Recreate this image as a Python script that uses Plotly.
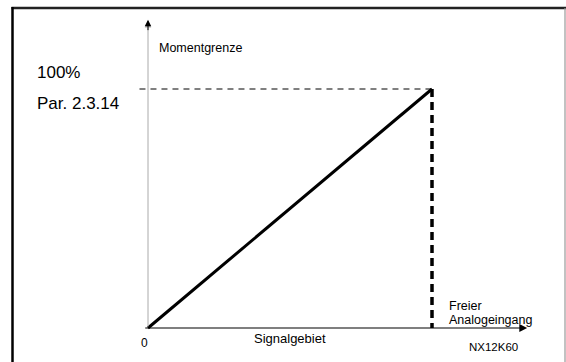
import plotly.graph_objects as go

# Kennlinie: Signalgebiet (%) -> Momentgrenze (%)
signal = [0, 100]
moment = [0, 100]
grenze_label = ['100%', 'Par. 2.3.14']
y_titel = 'Momentgrenze'
x_titel = 'Signalgebiet'
x_ende = ['Freier', 'Analogeingang']
bild_nr = 'NX12K60'

FONT = 'Liberation Sans, Arial, sans-serif'

fig = go.Figure()

# horizontale Hilfslinie bei 100 %
fig.add_trace(go.Scatter(x=[-3, signal[1]], y=[moment[1], moment[1]], mode='lines',
                         line=dict(color='black', width=1, dash='6px,5px'),
                         hoverinfo='skip'))
# senkrechte Hilfslinie am Ende des Signalgebiets
fig.add_trace(go.Scatter(x=[signal[1], signal[1]], y=[moment[1], 0], mode='lines',
                         line=dict(color='black', width=3.5, dash='8px,5px'),
                         hoverinfo='skip'))
# Kennlinie
fig.add_trace(go.Scatter(x=signal, y=moment, mode='lines',
                         line=dict(color='black', width=3),
                         hoverinfo='skip'))

# Achsen mit Pfeilen
fig.add_annotation(x=133.5, y=0, ax=-1.5, ay=0, xref='x', yref='y', axref='x', ayref='y',
                   showarrow=True, arrowhead=2, arrowsize=1.3, arrowwidth=1.2,
                   arrowcolor='black', text='')
fig.add_annotation(x=0, y=128.5, ax=0, ay=0, xref='x', yref='y', axref='x', ayref='y',
                   showarrow=True, arrowhead=2, arrowsize=1.3, arrowwidth=1,
                   arrowcolor='#aaaaaa', text='')
fig.add_annotation(x=0, y=129, ax=0, ay=124, xref='x', yref='y', axref='x', ayref='y',
                   showarrow=True, arrowhead=2, arrowsize=1.3, arrowwidth=1,
                   arrowcolor='black', text='')

# Texte
fig.add_annotation(x=-39.8, y=106.7, text=grenze_label[0], showarrow=False,
                   xanchor='left', font=dict(size=17, family=FONT, color='black'))
fig.add_annotation(x=-39.8, y=94.1, text=grenze_label[1], showarrow=False,
                   xanchor='left', font=dict(size=17, family=FONT, color='black'))
fig.add_annotation(x=3.2, y=117.2, text=y_titel, showarrow=False,
                   xanchor='left', font=dict(size=12.5, family=FONT, color='black'))
fig.add_annotation(x=-1.1, y=-6.3, text='0', showarrow=False,
                   font=dict(size=12, family=FONT, color='black'))
fig.add_annotation(x=50, y=-4.2, text=x_titel, showarrow=False,
                   font=dict(size=13, family=FONT, color='black'))
fig.add_annotation(x=105.3, y=9.4, text=x_ende[0], showarrow=False,
                   xanchor='left', font=dict(size=12.5, family=FONT, color='black'))
fig.add_annotation(x=105.3, y=3.4, text=x_ende[1], showarrow=False,
                   xanchor='left', font=dict(size=12.5, family=FONT, color='black'))
fig.add_annotation(x=112.3, y=-7.9, text=bild_nr, showarrow=False,
                   xanchor='left', font=dict(size=11.5, family=FONT, color='black'))

# Rahmen
fig.add_shape(type='line', xref='paper', yref='paper', x0=11.5 / 566, x1=1, y0=1 - 8 / 362, y1=1 - 8 / 362,
              line=dict(color='#222222', width=2.5))
fig.add_shape(type='line', xref='paper', yref='paper', x0=12.5 / 566, x1=12.5 / 566, y0=0, y1=1 - 7 / 362,
              line=dict(color='black', width=2.5))
fig.add_shape(type='line', xref='paper', yref='paper', x0=565 / 566, x1=565 / 566, y0=0, y1=1 - 8 / 362,
              line=dict(color='#999999', width=1.2))

fig.update_xaxes(range=[-148 * 100 / 284, 418 * 100 / 284], visible=False)
fig.update_yaxes(range=[-34 * 100 / 239, 328 * 100 / 239], visible=False)
fig.update_layout(width=566, height=362, margin=dict(l=0, r=0, t=0, b=0),
                  paper_bgcolor='white', plot_bgcolor='white', showlegend=False)

fig.write_html("out.html", config={'displayModeBar': False},
               post_script="document.body.style.margin='0';")
